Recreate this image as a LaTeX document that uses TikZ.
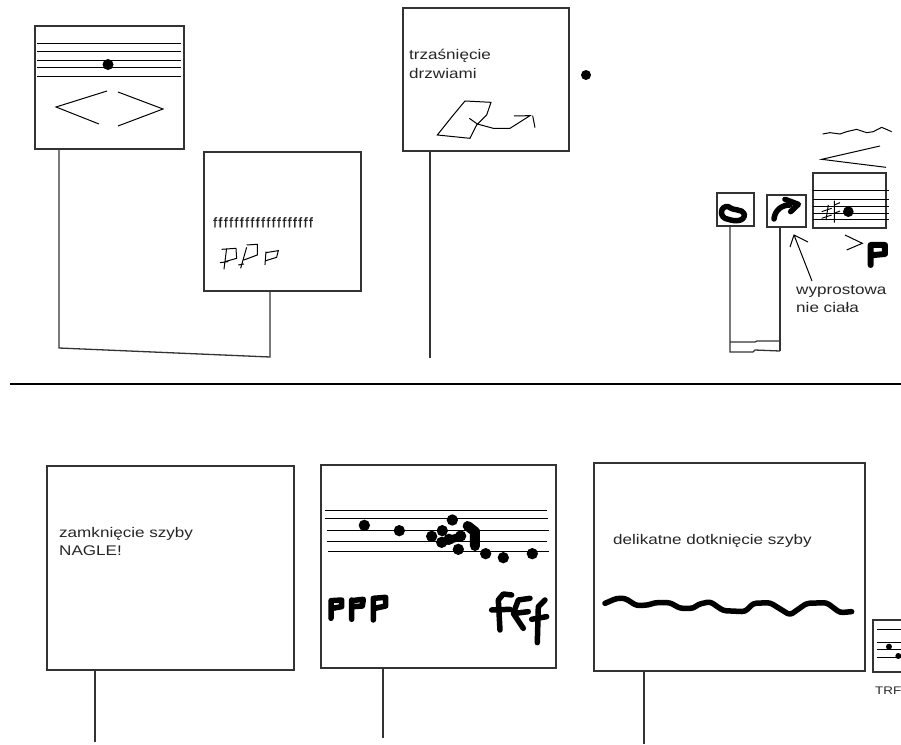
\documentclass[tikz,border=0pt]{standalone}
\usepackage{fontspec}
\setmainfont[FakeStretch=1.22]{Liberation Sans}
\newfontfamily\rowfont[LetterSpace=12,FakeBold=0.6]{Liberation Sans}
\definecolor{inkgray}{gray}{0.2}
\tikzset{
    soundbox/.style={draw=inkgray, line width=1.3pt, anchor=north west, inner sep=0pt, outer sep=0pt},
    stem/.style={draw=inkgray, line width=1.3pt},
    staffline/.style={black, line width=1pt},
    thinpen/.style={black, line width=1pt},
    fatpen/.style={black, line width=5.5pt, line cap=round, line join=round},
    note/.style={anchor=north west, inner sep=0pt, align=left, text=black!85, font=\fontsize{14}{18.5}\selectfont}
}
\begin{document}
\begin{tikzpicture}[x=1pt, y=-1pt]
    \useasboundingbox (0,0) rectangle (901,744);

    % Upper row boxes
    \node[soundbox, minimum width=149pt, minimum height=123pt] (swell) at (35,26) {};
    \node[soundbox, minimum width=157pt, minimum height=139pt] (rowf) at (204,152) {};
    \node[soundbox, minimum width=166pt, minimum height=143pt] (door) at (403,8) {};
    \node[soundbox, minimum width=37pt, minimum height=33pt] (blob) at (717,193) {};
    \node[soundbox, minimum width=39pt, minimum height=32pt] (body) at (767,195) {};
    \node[soundbox, minimum width=73pt, minimum height=55pt] (staffp) at (813,173) {};

    % Lower row boxes
    \node[soundbox, minimum width=247pt, minimum height=204pt] (pane) at (47,466) {};
    \node[soundbox, minimum width=235pt, minimum height=203pt] (notes) at (321,465) {};
    \node[soundbox, minimum width=271pt, minimum height=208pt] (touch) at (594,463) {};
    \node[soundbox, minimum width=40pt, minimum height=52pt] (trill) at (873,620) {};

    % Stem ends
    \coordinate (swellend) at (59,348);
    \coordinate (rowfend) at (270,357);
    \coordinate (doorend) at (430,358);
    \coordinate (blobend) at (730,352);
    \coordinate (bodyend) at (780,351);
    \coordinate (paneend) at (95,742);
    \coordinate (notesend) at (383,738);
    \coordinate (touchend) at (644,744);
    \coordinate (rulestart) at (10,384);
    \coordinate (ruleend) at (901,384);

    % Stems
    \draw[stem] (swellend |- swell.south) -- (swellend) -- (rowfend) -- (rowfend |- rowf.south);
    \draw[stem] (doorend |- door.south) -- (doorend);
    \draw[stem] (blobend |- blob.south) -- (blobend) -- (753,352) -- (755,350) -- (bodyend);
    \draw[stem] (bodyend |- body.south) -- (bodyend);
    \draw[stem] (blobend |- 0,342) -- (755,342) -- (757,341) -- (780,341);
    \draw[stem] (paneend |- pane.south) -- (paneend);
    \draw[stem] (notesend |- notes.south) -- (notesend);
    \draw[stem] (touchend |- touch.south) -- (touchend);
    \draw[black, line width=1.2pt] (rulestart) -- (ruleend);

    % Staff and hairpins
    \foreach \y in {43,51,60.5,67.5,76.5}
        \draw[staffline] (37,\y) -- (181,\y);
    \fill (108,64.5) circle (5.5pt);
    \draw[thinpen] (107,91) -- (56,107) -- (99,124);
    \draw[thinpen] (118,92) -- (163,109) -- (118,126);

    % Row of f and hand drawn p
    \node[note, font=\rowfont\fontsize{14}{18}\selectfont] (rowtext) at (213,217) {fffffffffffffffffff};
    \begin{scope}[shift={(20,10)}, scale=0.3333]
        \draw[thinpen] (605,718) -- (648,715) -- (650,745) -- (615,755) (620,715) -- (612,778) (600,758) -- (625,755);
        \draw[thinpen] (680,712) -- (662,775) (680,705) -- (712,703) -- (712,735) -- (672,750) (655,765) -- (672,762);
        \draw[thinpen] (738,725) -- (735,765) (738,728) -- (775,722) -- (770,742) -- (738,752);
    \end{scope}

    % Door
    \node[note] (doortext) at (409,49) {trzaśnięcie\\drzwiami};
    \begin{scope}[shift={(390,0)}, scale=0.3333]
        \draw[thinpen] (142,405) -- (190,345) -- (225,303) -- (303,307) -- (290,345) -- (260,375) -- (240,415) -- cycle;
        \draw[thinpen] (238,355) -- (262,372) -- (310,385) -- (360,385) -- (420,347) -- (372,348);
        \draw[thinpen] (428,347) -- (435,383);
    \end{scope}
    \fill (586,75) circle (5pt);

    % Right group
    \begin{scope}[shift={(700,110)}, scale=0.3333]
        \draw[fatpen] (85,290) .. controls (60,285) and (55,325) .. (85,328) .. controls (105,335) and (135,335) .. (133,312) .. controls (125,295) and (105,305) .. (85,290);
        \draw[fatpen] (222,327) .. controls (225,300) and (245,285) .. (270,285);
        \draw[fatpen] (255,268) -- (295,283) -- (272,305);
        \draw[thinpen] (368,72) -- (390,68) -- (420,72) -- (440,65) -- (470,58) -- (500,68) -- (520,65) -- (545,52) -- (575,65);
        \draw[thinpen] (540,108) -- (365,148) -- (558,172);
        \foreach \y in {242,270,290,310,330}
            \draw[staffline] (340,\y) -- (568,\y);
        \draw[thinpen] (385,285) -- (378,330) (403,272) -- (403,338);
        \draw[thinpen] (365,305) -- (395,295) (365,325) -- (395,315) (403,285) -- (420,278) (403,310) -- (420,303);
        \fill (445,305) circle (16);
        \draw[thinpen] (435,375) -- (487,400) -- (440,420);
        \draw[fatpen, line width=6pt] (512,405) -- (512,465) (512,405) -- (555,405) -- (555,432) -- (512,436);
    \end{scope}
    \coordinate (bentail) at (812,281);
    \coordinate (benhead) at (794,235);
    \draw[thinpen] (bentail) -- (benhead) (790,247) -- (benhead) -- (808,242);
    \node[note] (bendtext) at (796,285) {wyprostowa\\nie ciała};

    % Pane
    \node[note] (panetext) at (59,527) {zamknięcie szyby\\NAGLE!};

    % Staff with many notes
    \begin{scope}[shift={(315,460)}, scale=0.3333]
        \draw[staffline] (30,152) -- (697,152);
        \draw[staffline] (30,176) -- (700,176);
        \draw[staffline] (35,212) -- (702,212);
        \draw[staffline] (35,244) -- (697,244);
        \draw[staffline] (40,276) -- (702,276);
        \foreach \x/\y in {148/196,253/212,412/180,382/212,350/229,437/228,430/268,512/281,565/293,652/281,380/247,402/238}
            \fill (\x,\y) circle (17);
        \draw[fatpen, line width=8pt] (385,245) -- (435,230);
        \draw[fatpen, line width=10pt] (458,198) -- (480,215) -- (480,258);
        % ppp
        \draw[fatpen] (48,422) -- (48,475) (48,422) -- (80,420) -- (80,440) -- (52,445);
        \draw[fatpen] (110,420) -- (110,478) (110,422) -- (145,418) -- (142,438) -- (115,440);
        \draw[fatpen] (175,415) -- (175,480) (175,415) -- (212,412) -- (212,438) -- (180,445);
        % fff
        \draw[fatpen] (555,510) -- (550,420) -- (565,402) -- (590,405) (530,450) -- (585,448);
        \draw[fatpen] (645,415) -- (610,420) -- (595,460) -- (625,505) (600,460) -- (640,455);
        \draw[fatpen] (690,420) -- (670,440) -- (667,548) (650,478) -- (695,470);
    \end{scope}

    % Touch
    \node[note] (touchtext) at (613,534) {delikatne dotknięcie szyby};
    \begin{scope}[shift={(590,460)}, scale=0.3333]
        \draw[fatpen, rounded corners=3pt] (45,430) -- (80,415) -- (105,415) -- (140,437) -- (175,435) -- (195,428) -- (240,428) -- (270,445) -- (310,445) -- (325,433) -- (360,425) -- (400,452) -- (465,455) -- (490,430) -- (540,428) -- (600,465) -- (650,430) -- (710,428) -- (750,458) -- (785,455);
        \foreach \y in {510,548,570,592}
            \draw[staffline] (862,\y) -- (950,\y);
        \fill (897,560) circle (9);
        \fill (925,588) circle (9);
    \end{scope}
    \node[note, font=\fontsize{11}{13}\selectfont] (trilltext) at (875,687) {TRF};
\end{tikzpicture}
\end{document}
